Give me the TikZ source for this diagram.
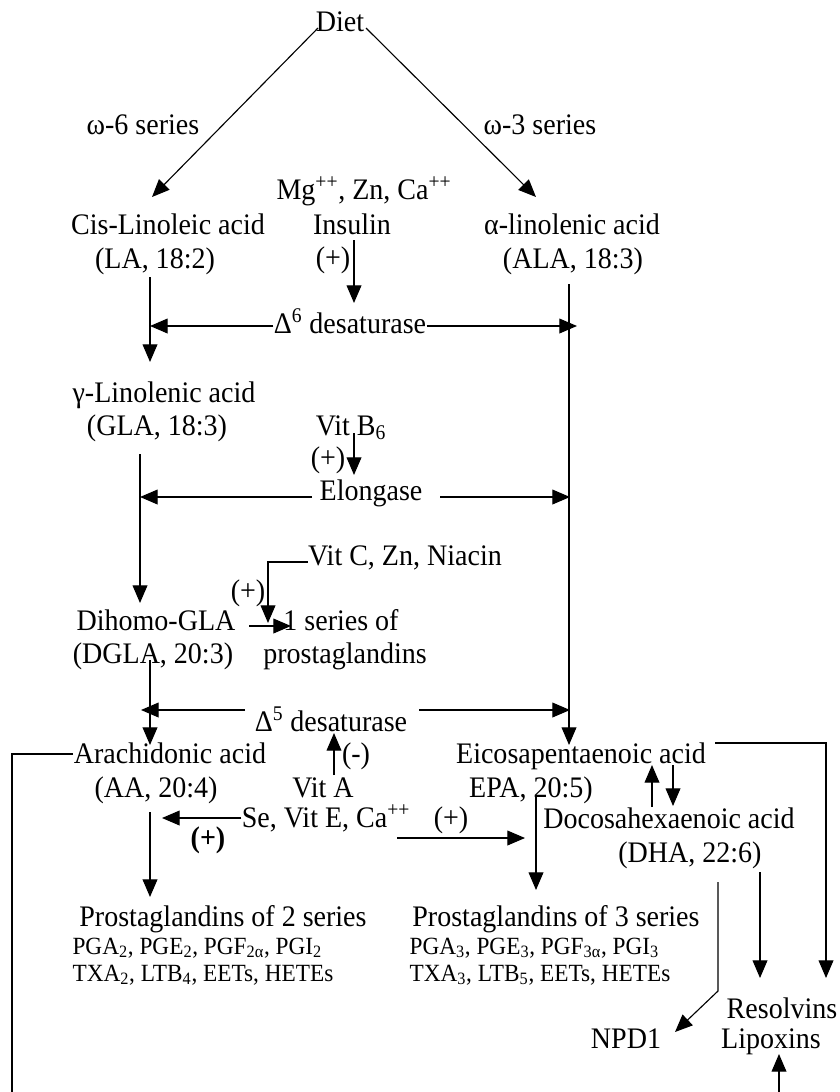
\documentclass[tikz,border=0pt]{standalone}
\usepackage{fontspec}
\setmainfont{Liberation Serif}[FakeStretch=0.94]
\usetikzlibrary{arrows.meta,positioning}

\begin{document}
\begin{tikzpicture}[x=0.025cm,y=-0.025cm,line width=0.8pt,
		font=\fontsize{21.2}{24}\selectfont,
		arr/.style={-{Triangle[length=12.5pt,width=10.5pt]}},
		small/.style={font=\fontsize{17.6}{18}\selectfont,anchor=base west}]
		\tikzstyle{every node}+=[inner sep=0pt,anchor=base]
		\useasboundingbox (0,0) rectangle (840,1092);
		% top
		\node (diet) at (340,31) {Diet};
		\node (w6) at (143,134) {ω-6 series};
		\node (w3) at (540,134) {ω-3 series};
		\node (mg) at (364,199) {Mg\textsuperscript{++}, Zn, Ca\textsuperscript{++}};
		\node (ins) at (352,234) {Insulin};
		\node (pInsu) at (333,267) {(+)};
		\node (la1) at (168,234) {Cis-Linoleic acid};
		\node (la2) at (155,268) {(LA, 18:2)};
		\node (ala1) at (572,234) {α-linolenic acid};
		\node (ala2) at (573,268) {(ALA, 18:3)};
		\node (dsix) at (350,333) {Δ\textsuperscript{6} desaturase};
		% gla row
		\node (gla1) at (164,402) {γ-Linolenic acid};
		\node (gla2) at (157,435) {(GLA, 18:3)};
		\node (bsix) at (351,435) {Vit B\textsubscript{6}};
		\node (pB) at (328,467) {(+)};
		\node (elo) at (371,500) {Elongase};
		\node (vitc) at (405,565) {Vit C, Zn, Niacin};
		\node (pC) at (248,600) {(+)};
		% dgla row
		\node (dg1) at (156,630) {Dihomo-GLA};
		\node (dg2) at (153,663) {(DGLA, 20:3)};
		\node (ps1) at (341,630) {1 series of};
		\node (ps2) at (345,663) {prostaglandins};
		\node (dfive) at (331,731) {Δ\textsuperscript{5} desaturase};
		% aa / epa row
		\node (aa1) at (170,763) {Arachidonic acid};
		\node (aa2) at (156,797) {(AA, 20:4)};
		\node (minus) at (356,763) {(-)};
		\node (vita) at (323,797) {Vit A};
		\node (se) at (326,827) {Se, Vit E, Ca\textsuperscript{++}};
		\node (pL) at (208,847) {\textbf{(+)}};
		\node (pR) at (451,827) {(+)};
		\node (epa1) at (581,763) {Eicosapentaenoic acid};
		\node (epa2) at (531,797) {EPA, 20:5)};
		\node (dha1) at (669,828) {Docosahexaenoic acid};
		\node (dha2) at (690,862) {(DHA, 22:6)};
		% products
		\node (pg2) at (223,926) {Prostaglandins of 2 series};
		\node[small] (pg2a) at (72,954) {PGA\textsubscript{2}, PGE\textsubscript{2}, PGF\textsubscript{2α}, PGI\textsubscript{2}};
		\node[small] (pg2b) at (72,981) {TXA\textsubscript{2}, LTB\textsubscript{4}, EETs, HETEs};
		\node (pg3) at (556,926) {Prostaglandins of 3 series};
		\node[small] (pg3a) at (409,954) {PGA\textsubscript{3}, PGE\textsubscript{3}, PGF\textsubscript{3α}, PGI\textsubscript{3}};
		\node[small] (pg3b) at (409,981) {TXA\textsubscript{3}, LTB\textsubscript{5}, EETs, HETEs};
		\node (npd) at (626,1048) {NPD1};
		\node (res) at (782,1018) {Resolvins};
		\node (lip) at (771,1048) {Lipoxins};
		% free ends
		\coordinate (dietL) at (318,28);
		\coordinate (dietR) at (366,28);
		\coordinate (laTop) at (152,197);
		\coordinate (alaTop) at (536,197);
		\coordinate (laBot) at (150,277);
		\coordinate (laIn) at (150,326);
		\coordinate (glaTop) at (150,362);
		\coordinate (alaBot) at (569,284);
		\coordinate (alaIn) at (577,326);
		\coordinate (epaTop) at (569,745);
		\coordinate (insBot) at (354,303);
		\coordinate (bBot) at (354,475);
		\coordinate (glaBot) at (140,454);
		\coordinate (gIn) at (140,497);
		\coordinate (eIn) at (570,497);
		\coordinate (dgTop) at (140,603);
		\coordinate (cTurn) at (268,562);
		\coordinate (cBot) at (268,623);
		\coordinate (dgBot) at (150,660);
		\coordinate (dgIn) at (141,710);
		\coordinate (epIn) at (570,710);
		\coordinate (aaTop) at (150,745);
		\coordinate (aTop) at (334,733);
		\coordinate (aBot) at (334,775);
		\coordinate (seL) at (162,818);
		\coordinate (seR) at (525,838);
		\coordinate (aaBot) at (150,812);
		\coordinate (pgTwo) at (150,897);
		\coordinate (epaBot) at (536,797);
		\coordinate (pgThree) at (536,890);
		\coordinate (upA) at (652,807);
		\coordinate (upB) at (652,765);
		\coordinate (dnA) at (673,765);
		\coordinate (dnB) at (673,806);
		\coordinate (epaR) at (715,743);
		\coordinate (epaC) at (826,743);
		\coordinate (resR) at (826,978);
		\coordinate (dhaA) at (760,872);
		\coordinate (resL) at (760,978);
		\coordinate (dhaB) at (718,882);
		\coordinate (dhaK) at (718,991);
		\coordinate (npdT) at (675,1032);
		\coordinate (aaL) at (73,754);
		\coordinate (loopA) at (12,754);
		\coordinate (loopB) at (12,1110);
		\coordinate (loopC) at (779,1110);
		\coordinate (lipB) at (779,1054);
		% connectors
		\draw[arr] (dietL) -- (laTop);
		\draw[arr] (dietR) -- (alaTop);
		\draw[arr] (354,240) -- (insBot);
		\draw[arr] (laBot) -- (glaTop);
		\draw[arr] (alaBot) -- (epaTop);
		\draw[arr] (dsix.west |- laIn) -- (laIn);
		\draw[arr] (dsix.east |- alaIn) -- (alaIn);
		\draw[arr] (354,433) -- (bBot);
		\draw[arr] (glaBot) -- (dgTop);
		\draw[arr] (312,497) -- (gIn);
		\draw[arr] (440,497) -- (eIn);
		\draw[arr] (vitc.west |- cTurn) -- (cTurn) -- (cBot);
		\draw[arr] (249,626) -- (291,626);
		\draw[arr] (dgBot) -- (aaTop);
		\draw[arr] (245,710) -- (dgIn);
		\draw[arr] (419,710) -- (epIn);
		\draw[arr] (aBot) -- (aTop);
		\draw[arr] (se.west |- seL) -- (seL);
		\draw[arr] (397,838) -- (seR);
		\draw[arr] (aaBot) -- (pgTwo);
		\draw[arr] (epaBot) -- (pgThree);
		\draw[arr] (upA) -- (upB);
		\draw[arr] (dnA) -- (dnB);
		\draw[arr] (epaR) -- (epaC) -- (resR);
		\draw[arr] (dhaA) -- (resL);
		\draw[arr] (dhaB) -- (dhaK) -- (npdT);
		\draw[arr] (aaL) -- (loopA) -- (loopB) -- (loopC) -- (lipB);
\end{tikzpicture}
\end{document}
